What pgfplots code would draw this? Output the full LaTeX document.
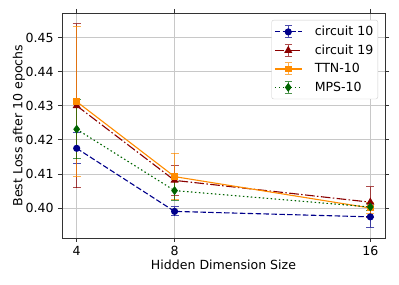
\documentclass[border=0pt]{standalone}
\usepackage{fontspec}
\setmainfont{DejaVu Sans}
\usepackage{pgfplots}
\pgfplotsset{compat=1.18}
\usetikzlibrary{calc}
\definecolor{c1}{HTML}{00008B}
\definecolor{c2}{HTML}{8B0000}
\definecolor{c3}{HTML}{FF8C00}
\definecolor{c4}{HTML}{006400}
\definecolor{gridc}{HTML}{B0B0B0}
\definecolor{legc}{HTML}{CCCCCC}
\pgfplotsset{
  errleg/.style={legend image code/.code={
    \draw[solid,opacity=0.7,line width=1bp] (13.5bp,-6bp) -- (13.5bp,6bp) (10bp,-6bp)--(17bp,-6bp) (10bp,6bp)--(17bp,6bp);
    \draw[mark repeat=2,mark phase=2] plot coordinates {(0bp,0bp) (13.5bp,0bp) (27bp,0bp)};
  }},
  myerr/.style={error bars/.cd, y dir=both, y explicit,
    error bar style={solid,line width=1bp,opacity=0.7},
    error mark options={rotate=90,mark size=4bp,line width=1bp,opacity=0.7,solid}},
}
\begin{document}
\fontsize{12.6}{15}\selectfont
\begin{tikzpicture}
\begin{axis}[
  scale only axis, width=323bp, height=225bp,
  xmin=3.4, xmax=16.6, ymin=0.3912, ymax=0.4572,
  xtick={4,8,16}, ytick={0.40,0.41,0.42,0.43,0.44,0.45},
  yticklabel style={/pgf/number format/.cd, fixed, fixed zerofill, precision=2},
  /pgf/number format/assume math mode=true,
  tick align=outside, major tick length=4bp,
  tick style={color=black!80, line width=0.8bp},
  axis line style={color=black!80, line width=0.8bp},
  grid=major, grid style={color=gridc!70, line width=0.8bp},
  ticklabel style={font=\fontsize{12.6}{15}\selectfont},
  label style={font=\fontsize{12.6}{15}\selectfont},
  xlabel={Hidden Dimension Size},
  ylabel={Best Loss after 10 epochs},
  xlabel style={yshift=4bp},
  ylabel style={yshift=-8bp},
  legend style={at={(1,1)}, anchor=north east, xshift=-7bp, yshift=-7bp,
    draw=legc, rounded corners=2bp, fill=white,
    font=\fontsize{12.6}{15}\selectfont, row sep=3.2bp, inner xsep=2.5bp, inner ysep=4bp,
    /tikz/every odd column/.append style={column sep=10.5bp}},
  legend cell align=left,
  errleg,
]
\addplot[c1, line width=1.1bp, dash pattern=on 5.5bp off 2.4bp, mark=*, mark size=3bp, mark options={solid}, myerr]
  coordinates {(4,0.4175) +- (0,0.0045) (8,0.3990) +- (0,0.0013) (16,0.3974) +- (0,0.0031)};
\addlegendentry{circuit 10}
\addplot[c2, line width=1.1bp, dash pattern=on 9.6bp off 2.4bp on 1.5bp off 2.4bp, mark=triangle*, mark size=3.6bp, mark options={solid}, myerr]
  coordinates {(4,0.4300) +- (0,0.0240) (8,0.4081) +- (0,0.0043) (16,0.4017) +- (0,0.0045)};
\addlegendentry{circuit 19}
\addplot[c3, line width=1.1bp, solid, mark=square*, mark size=2.8bp, myerr]
  coordinates {(4,0.4312) +- (0,0.0221) (8,0.4092) +- (0,0.0068) (16,0.4000) +- (0,0.0015)};
\addlegendentry{TTN-10}
\addplot[c4, line width=1.1bp, dash pattern=on 1.5bp off 2.5bp, mark=diamond*, mark size=3.6bp, mark options={solid}, myerr]
  coordinates {(4,0.4231) +- (0,0.0086) (8,0.4051) +- (0,0.0028) (16,0.4003) +- (0,0.0010)};
\addlegendentry{MPS-10}
\end{axis}
\pgfresetboundingbox
\path[use as bounding box] ($(current axis.south west)+(-62bp,-47bp)$) rectangle ($(current axis.north east)+(14bp,13bp)$);
\end{tikzpicture}
\end{document}
